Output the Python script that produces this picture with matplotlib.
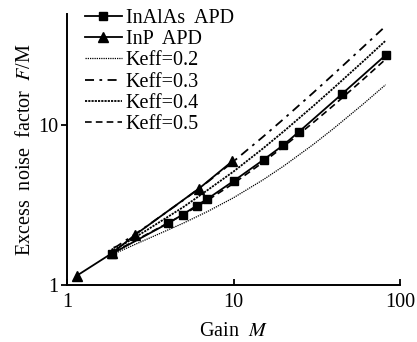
import matplotlib
matplotlib.use("Agg")
import matplotlib.pyplot as plt
from matplotlib.ticker import FixedLocator, FixedFormatter, NullLocator


# =====================================================
# DATA
# =====================================================

inalas_gain = [1.86, 4.06, 4.95, 6.0, 6.96, 10.1, 15.2, 19.9, 24.7, 45.0, 82.0]
inalas_noise = [1.57, 2.44, 2.76, 3.14, 3.46, 4.51, 6.11, 7.52, 9.12, 15.8, 27.6]

inp_gain = [1.14, 1.86, 2.56, 6.2, 9.84]
inp_noise = [1.14, 1.58, 2.06, 4.02, 5.97]

keff_gain = [1.9, 2.0, 3.0, 5.0, 7.0, 10.0, 15.0, 20.0, 30.0, 40.0, 60.0, 82.0]

# curves as drawn, named after the legend entry that carries their style
keff_02 = [1.57, 1.60, 1.93, 2.44, 2.89, 3.52, 4.55, 5.56, 7.57, 9.58, 13.59, 18.0]
keff_03 = [1.71, 1.75, 2.33, 3.40, 4.43, 5.95, 8.47, 10.98, 15.98, 20.99, 30.99, 41.99]
keff_04 = [1.66, 1.70, 2.20, 3.08, 3.94, 5.14, 7.16, 9.17, 13.18, 17.19, 25.19, 34.0]
keff_05 = [1.62, 1.65, 2.07, 2.76, 3.40, 4.33, 5.86, 7.37, 10.38, 13.38, 19.39, 26.0]

x_ticks = [1, 10, 100]
y_ticks = [1, 10]


# =====================================================
# STYLE
# =====================================================

plt.rcParams["font.family"] = "Liberation Serif"
plt.rcParams["mathtext.fontset"] = "stix"
plt.rcParams["font.size"] = 14.5


# =====================================================
# PLOT
# =====================================================

fig = plt.figure(figsize=(4.17, 3.42), dpi=100)
ax = fig.add_axes([0.161, 0.167, 0.798, 0.792])

ax.plot(inalas_gain, inalas_noise, color="black", lw=1.3,
        marker="s", markersize=5.5, label="InAlAs  APD")
ax.plot(inp_gain, inp_noise, color="black", lw=1.3,
        marker="^", markersize=7, label="InP  APD")
ax.plot(keff_gain, keff_02, color="black", lw=0.9,
        linestyle=(0, (1, 0.8)), label="Keff=0.2")
ax.plot(keff_gain, keff_03, color="black", lw=1.3,
        linestyle=(0, (5, 3, 1.5, 3)), label="Keff=0.3")
ax.plot(keff_gain, keff_04, color="black", lw=1.3,
        linestyle=(0, (1.2, 0.6)), label="Keff=0.4")
ax.plot(keff_gain, keff_05, color="black", lw=1.2,
        linestyle=(0, (4, 2.5)), label="Keff=0.5")

ax.set_xscale("log")
ax.set_yscale("log")
ax.set_xlim(1, 100)
ax.set_ylim(1, 50)

ax.xaxis.set_major_locator(FixedLocator(x_ticks))
ax.xaxis.set_major_formatter(FixedFormatter([str(v) for v in x_ticks]))
ax.yaxis.set_major_locator(FixedLocator(y_ticks))
ax.yaxis.set_major_formatter(FixedFormatter([str(v) for v in y_ticks]))
ax.xaxis.set_minor_locator(NullLocator())
ax.yaxis.set_minor_locator(NullLocator())

ax.tick_params(axis="x", direction="in", length=4, width=1.3, pad=6)
ax.tick_params(axis="y", direction="out", length=4, width=1.3, pad=2)

for side in ["top", "right"]:
    ax.spines[side].set_visible(False)
for side in ["left", "bottom"]:
    ax.spines[side].set_linewidth(1.4)

ax.set_xlabel("Gain  $M$", labelpad=7)
ax.set_ylabel("Excess  noise  factor  $F$/M", labelpad=3)

ax.legend(loc="upper left", bbox_to_anchor=(0.01, 1.07), frameon=False,
          handlelength=1.85, handletextpad=0.2, labelspacing=0.1,
          borderpad=0.2)

fig.savefig("out.png", dpi=100)
